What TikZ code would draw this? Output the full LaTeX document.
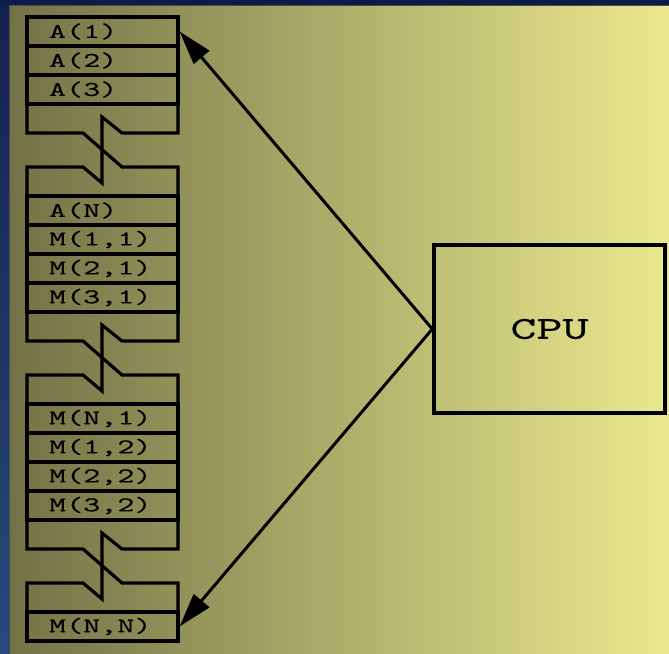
\documentclass[tikz,border=0pt]{standalone}
\usepackage{fontspec}
\usepackage{xcolor}
\usepackage{tikz}
\usetikzlibrary{arrows.meta}
\newfontfamily\cellfont[FakeStretch=1.55, FakeBold=0.2]{lmmono10-regular.otf}
\definecolor{navy}{HTML}{0E1B46}
\definecolor{bordtop}{HTML}{14214E}
\definecolor{bordbot}{HTML}{27497C}
\definecolor{panl}{HTML}{727247}
\definecolor{panm}{HTML}{C0C07A}
\definecolor{panr}{HTML}{EAEA8F}

\begin{document}
\begin{tikzpicture}[
    x=1pt, y=-1pt,
    cell/.style={draw, rectangle, line width=3.2pt, minimum height=29pt, inner ysep=0pt,
        inner xsep=22pt, text width=107pt, align=left, font=\cellfont\fontsize{21}{21}\selectfont},
    cpu/.style={draw, rectangle, line width=3.4pt, minimum width=231pt, minimum height=168pt,
        font=\cellfont\fontsize{32}{32}\selectfont},
    brk/.style={line width=3.2pt},
    link/.style={line width=3pt, -{Triangle[length=34pt, width=20pt]}},
]
\useasboundingbox (0,0) rectangle (669,653);

% Background
\shade[top color=bordtop, bottom color=bordbot] (0,0) rectangle (669,653);
\fill[navy] (0,0) rectangle (669,5);
\shade[left color=panl, middle color=panm, right color=panr, draw=black!70, line width=0.8pt]
    (9.5,5.5) rectangle (670,654);

% Memory cells
\node[cell] (a1) at (102.5,31.5) {A(1)};
\node[cell] (a2) at (102.5,60.5) {A(2)};
\node[cell] (a3) at (102.5,89.5) {A(3)};

\node[cell] (an) at (102.5,210.5) {A(N)};
\node[cell] (m11) at (102.5,239.5) {M(1,1)};
\node[cell] (m21) at (102.5,268.5) {M(2,1)};
\node[cell] (m31) at (102.5,297.5) {M(3,1)};

\node[cell] (mn1) at (102.5,418.5) {M(N,1)};
\node[cell] (m12) at (102.5,447.5) {M(1,2)};
\node[cell] (m22) at (102.5,476.5) {M(2,2)};
\node[cell] (m32) at (102.5,505.5) {M(3,2)};

\node[cell] (mnn) at (102.5,626.5) {M(N,N)};

% Breaks between blocks
\begin{scope}[shift={(0,133)}]
\draw[brk] (27,-29) -- (27,0) -- (83,0) -- (122,34) -- (178,34) -- (178,63);
\draw[brk] (178,-29) -- (178,0) -- (122,0) -- (102,-16) -- (102,50) -- (83,34) -- (27,34) -- (27,63);
\end{scope}
\begin{scope}[shift={(0,341)}]
\draw[brk] (27,-29) -- (27,0) -- (83,0) -- (122,34) -- (178,34) -- (178,63);
\draw[brk] (178,-29) -- (178,0) -- (122,0) -- (102,-16) -- (102,50) -- (83,34) -- (27,34) -- (27,63);
\end{scope}
\begin{scope}[shift={(0,549)}]
\draw[brk] (27,-29) -- (27,0) -- (83,0) -- (122,34) -- (178,34) -- (178,63);
\draw[brk] (178,-29) -- (178,0) -- (122,0) -- (102,-16) -- (102,50) -- (83,34) -- (27,34) -- (27,63);
\end{scope}

% CPU
\node[cpu] (cpu) at (549.5,329) {CPU};

% Links
\draw[link] (cpu.west) -- (a1.east);
\draw[link] (cpu.west) -- (mnn.east);

\end{tikzpicture}
\end{document}
